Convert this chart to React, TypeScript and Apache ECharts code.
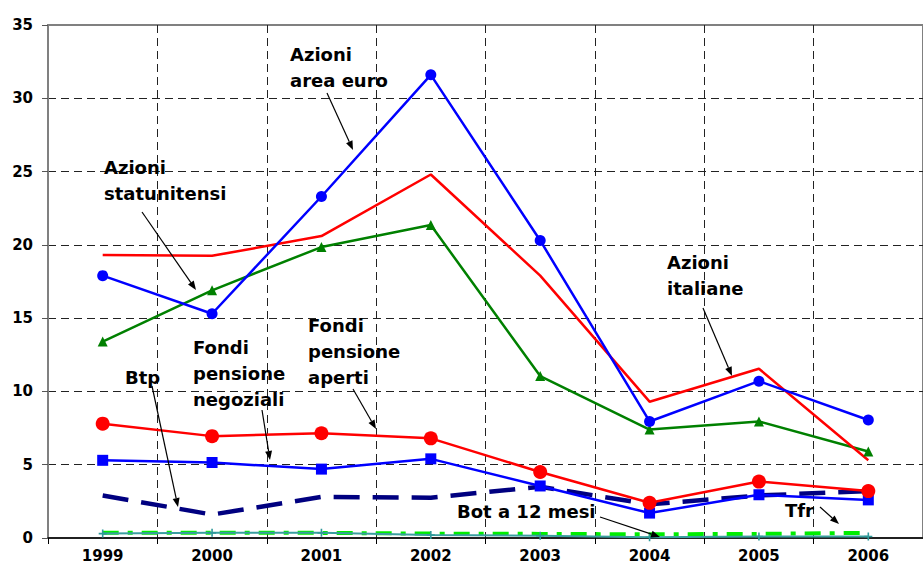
import React, { useEffect, useRef } from "react";
import * as echarts from "echarts";

const years = ["1999", "2000", "2001", "2002", "2003", "2004", "2005", "2006"];
const azioniItaliane = [19.3, 19.25, 20.6, 24.8, 17.9, 9.3, 11.55, 5.3];
const azioniAreaEuro = [17.9, 15.3, 23.3, 31.6, 20.3, 7.95, 10.7, 8.05];
const azioniStatunitensi = [13.4, 16.9, 19.85, 21.35, 11.05, 7.4, 7.95, 5.9];
const fondiAperti = [7.8, 6.95, 7.15, 6.8, 4.5, 2.4, 3.85, 3.2];
const fondiNegoziali = [5.3, 5.15, 4.7, 5.4, 3.55, 1.7, 2.95, 2.6];
const btp = [2.9, 1.6, 2.8, 2.75, 3.5, 2.3, 2.9, 3.2];
const bot12 = [0.3, 0.35, 0.35, 0.2, 0.15, 0.05, 0.1, 0.1];
const tfr = [0.35, 0.35, 0.35, 0.3, 0.28, 0.25, 0.28, 0.35];

const FONT = '"DejaVu Sans", "Liberation Sans", Arial, sans-serif';

function label(text: string, x: number, y: number) {
  return {
    type: "text",
    x,
    y,
    z: 100,
    style: {
      text,
      fontFamily: FONT,
      fontWeight: "bold",
      fontSize: 18,
      lineHeight: 26,
      fill: "#000",
      align: "left",
      verticalAlign: "top",
    },
  };
}

function arrow(x1: number, y1: number, x2: number, y2: number) {
  const dx = x2 - x1;
  const dy = y2 - y1;
  const len = Math.sqrt(dx * dx + dy * dy);
  const ux = dx / len;
  const uy = dy / len;
  const hl = 9;
  const hw = 3.5;
  const bx = x2 - ux * hl;
  const by = y2 - uy * hl;
  return [
    {
      type: "line",
      z: 100,
      shape: { x1, y1, x2: bx, y2: by },
      style: { stroke: "#000", lineWidth: 1.2 },
    },
    {
      type: "polygon",
      z: 100,
      shape: {
        points: [
          [x2, y2],
          [bx - uy * hw, by + ux * hw],
          [bx + uy * hw, by - ux * hw],
        ],
      },
      style: { fill: "#000" },
    },
  ];
}

export default function App() {
  const ref = useRef<HTMLDivElement>(null);
  useEffect(() => {
    if (!ref.current) return;
    const chart = echarts.init(ref.current, undefined, { renderer: "svg" });
    const plusPath = "path://M4,0h2v10h-2z M0,4h10v2h-10z";
    chart.setOption({
      animation: false,
      backgroundColor: "#fff",
      grid: {
        left: 48,
        top: 25,
        right: -19,
        bottom: 36,
        show: true,
        borderColor: "#808080",
        borderWidth: 2,
      },
      xAxis: {
        type: "category",
        data: years,
        boundaryGap: true,
        axisLine: { lineStyle: { color: "#000", width: 1.5 } },
        axisTick: { show: true, length: 6, lineStyle: { color: "#000", width: 1 } },
        axisLabel: {
          fontFamily: FONT,
          fontWeight: "bold",
          fontSize: 15,
          color: "#000",
          margin: 10,
        },
        splitLine: {
          show: true,
          lineStyle: { color: "#222", type: [8, 5], width: 1 },
        },
      },
      yAxis: {
        type: "value",
        min: 0,
        max: 35,
        interval: 5,
        axisLine: { show: true, lineStyle: { color: "#808080", width: 2 } },
        axisTick: { show: true, length: 6, lineStyle: { color: "#555", width: 1 } },
        axisLabel: {
          fontFamily: FONT,
          fontWeight: "bold",
          fontSize: 15,
          color: "#000",
          margin: 15,
        },
        splitLine: {
          show: true,
          showMaxLine: false,
          showMinLine: false,
          lineStyle: { color: "#222", type: [8, 5], width: 1 },
        },
      },
      series: [
        {
          name: "Tfr",
          type: "line",
          data: tfr,
          symbol: "none",
          lineStyle: { color: "#00ee00", width: 4, type: [16, 9, 5, 9] },
          z: 3,
        },
        {
          name: "Bot a 12 mesi",
          type: "line",
          data: bot12,
          symbol: plusPath,
          symbolSize: 8,
          itemStyle: { color: "#2f9a9a" },
          lineStyle: { color: "#3a9fa0", width: 2 },
          z: 4,
        },
        {
          name: "Btp",
          type: "line",
          data: btp,
          symbol: "none",
          lineStyle: { color: "#000080", width: 4.5, type: [26, 13] },
          z: 3,
        },
        {
          name: "Fondi pensione negoziali",
          type: "line",
          data: fondiNegoziali,
          symbol: "rect",
          symbolSize: 11,
          itemStyle: { color: "#0000ff" },
          lineStyle: { color: "#0000ff", width: 2.5 },
          z: 4,
        },
        {
          name: "Fondi pensione aperti",
          type: "line",
          data: fondiAperti,
          symbol: "circle",
          symbolSize: 14,
          itemStyle: { color: "#ff0000" },
          lineStyle: { color: "#ff0000", width: 2.5 },
          z: 5,
        },
        {
          name: "Azioni statunitensi",
          type: "line",
          data: azioniStatunitensi,
          symbol: "triangle",
          symbolSize: 10,
          itemStyle: { color: "#008000" },
          lineStyle: { color: "#008000", width: 2.5 },
          z: 5,
        },
        {
          name: "Azioni italiane",
          type: "line",
          data: azioniItaliane,
          symbol: "none",
          lineStyle: { color: "#ff0000", width: 2.5 },
          z: 5,
        },
        {
          name: "Azioni area euro",
          type: "line",
          data: azioniAreaEuro,
          symbol: "circle",
          symbolSize: 11,
          itemStyle: { color: "#0000ff" },
          lineStyle: { color: "#0000ff", width: 2.5 },
          z: 6,
        },
      ],
      graphic: [
        label("Azioni\narea euro", 290, 41),
        ...arrow(327, 93, 353, 150),
        label("Azioni\nstatunitensi", 104, 154),
        ...arrow(142, 212, 196, 290),
        label("Azioni\nitaliane", 667, 249),
        ...arrow(703, 308, 732, 376),
        label("Fondi\npensione\nnegoziali", 193, 334),
        ...arrow(262, 410, 270, 460),
        label("Fondi\npensione\naperti", 308, 312),
        ...arrow(353, 389, 376, 429),
        label("Btp", 125, 364),
        ...arrow(152, 386, 178, 507),
        label("Bot a 12 mesi", 457, 498),
        ...arrow(600, 517, 660, 537),
        label("Tfr", 785, 497),
        ...arrow(820, 507, 839, 524),
      ],
    });
    return () => chart.dispose();
  }, []);
  return (
    <div
      ref={ref}
      style={{ position: "fixed", left: 0, top: 0, width: 923, height: 574 }}
    />
  );
}
